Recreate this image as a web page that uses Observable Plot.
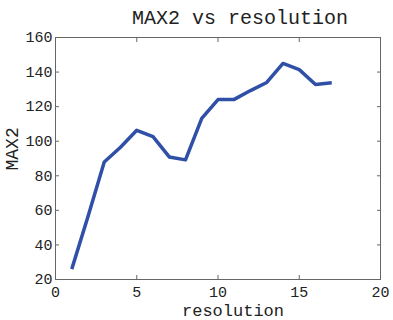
<!DOCTYPE html>
<html>
<head>
<meta charset="utf-8">
<script src="https://cdn.jsdelivr.net/npm/d3@7"></script>
<script src="https://cdn.jsdelivr.net/npm/@observablehq/plot@0.6"></script>
<style>
  html, body { margin: 0; padding: 0; background: #fff; }
</style>
</head>
<body>
<div id="chart"></div>
<script>
const resolution = [1, 2, 3, 4, 5, 6, 7, 8, 9, 10, 11, 12, 13, 14, 15, 16, 17];
const max2 = [26, 56.5, 88, 96.5, 106.3, 102.6, 90.9, 89.2, 113.2, 124.1, 124.2, 129.3, 134, 145, 141.4, 132.8, 133.8];
const xTicks = [0, 5, 10, 15, 20];
const yTicks = [20, 40, 60, 80, 100, 120, 140, 160];
const titleText = "MAX2 vs resolution";
const xLabel = "resolution";
const yLabel = "MAX2";

const data = resolution.map((r, i) => ({resolution: r, max2: max2[i]}));
const font = "'Liberation Mono', 'DejaVu Sans Mono', monospace";
const frameColor = "#666";
const textColor = "#222";

const chart = Plot.plot({
  width: 393,
  height: 320,
  marginLeft: 55,
  marginRight: 13,
  marginTop: 37,
  marginBottom: 41,
  style: {fontFamily: font, fontSize: "15px", background: "#fff", color: textColor},
  x: {domain: [0, 20], ticks: xTicks, label: null},
  y: {domain: [20, 160], ticks: yTicks, label: null},
  marks: [
    Plot.frame({stroke: frameColor, strokeWidth: 1}),
    Plot.axisX({anchor: "bottom", ticks: xTicks, tickSize: 0, tickPadding: 7, fontSize: 15, fill: textColor, label: null}),
    Plot.axisY({anchor: "left", ticks: yTicks, tickSize: 0, tickPadding: 3, fontSize: 15, fill: textColor, label: null}),
    Plot.axisX({anchor: "bottom", ticks: xTicks, tickSize: -4, tickFormat: () => "", stroke: frameColor, label: null}),
    Plot.axisX({anchor: "top", ticks: xTicks, tickSize: -4, tickFormat: () => "", stroke: frameColor, label: null}),
    Plot.axisY({anchor: "left", ticks: yTicks, tickSize: -4, tickFormat: () => "", stroke: frameColor, label: null}),
    Plot.axisY({anchor: "right", ticks: yTicks, tickSize: -4, tickFormat: () => "", stroke: frameColor, label: null}),
    Plot.line(data, {x: "resolution", y: "max2", stroke: "#3050a8", strokeWidth: 3.5, strokeLinejoin: "round", strokeLinecap: "butt"}),
    Plot.text([titleText], {frameAnchor: "top", dx: 22, dy: -14, lineAnchor: "bottom", fontSize: 20, fill: textColor}),
    Plot.text([xLabel], {frameAnchor: "bottom", dx: 15, dy: 36, lineAnchor: "bottom", fontSize: 17, fill: textColor}),
    Plot.text([yLabel], {frameAnchor: "left", dx: -38, dy: 12, rotate: -90, lineAnchor: "bottom", fontSize: 18, fill: textColor})
  ]
});
document.getElementById("chart").appendChild(chart);
</script>
</body>
</html>
